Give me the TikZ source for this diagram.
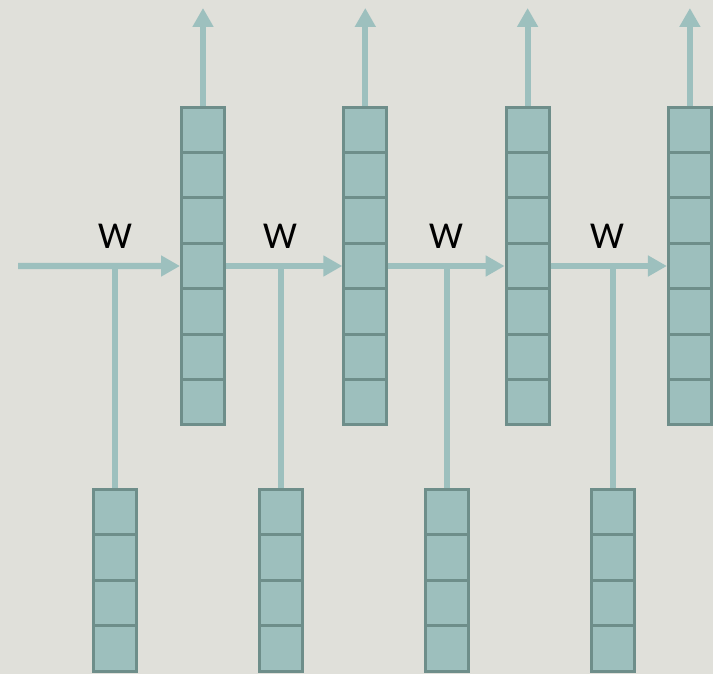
\documentclass[tikz,border=0pt]{standalone}
\usepackage{fontspec}
\setsansfont{Carlito}
\usetikzlibrary{arrows.meta,positioning}

\definecolor{paper}{RGB}{224,224,218}
\definecolor{cellfill}{RGB}{157,191,189}
\definecolor{celledge}{RGB}{110,142,138}
\definecolor{flowcol}{RGB}{157,192,190}

\tikzset{
  cell/.style={draw=celledge,fill=cellfill,line width=3pt,
    minimum width=43pt,minimum height=45.4pt,inner sep=0pt},
  flow/.style={draw=flowcol,line width=6pt,-{Triangle[length=19pt,width=20pt]}},
  link/.style={draw=flowcol,line width=6pt},
  wlabel/.style={font=\sffamily\fontsize{38}{44}\selectfont,text=black}
}

\begin{document}
\begin{tikzpicture}[x=1pt,y=-1pt,node distance=45.4pt]
  \fill[paper] (0,0) rectangle (713,674);
  \useasboundingbox (0,0) rectangle (713,674);
  \clip (0,0) rectangle (713,674);

  \foreach \i/\hx/\xx/\wx in {1/203/115/115,2/365.3/281/280,3/527.6/447/446,4/689.9/613/607} {
    % hidden column, seven cells
    \node [cell] (h\i-1) at (\hx,129.8) {};
    \foreach \k [count=\j from 2] in {1,...,6}
      \node [cell,below of=h\i-\k] (h\i-\j) {};
    % input column, four cells
    \node [cell] (x\i-1) at (\xx,512.2) {};
    \foreach \k [count=\j from 2] in {1,2,3}
      \node [cell,below of=x\i-\k] (x\i-\j) {};
    \coordinate (o\i) at (\hx,8);
    \coordinate (j\i) at (\xx,266);
    \node [wlabel] (w\i) at (\wx,236) {W};
    \draw [flow] (h\i-1.north) -- (o\i);
    \draw [link] (x\i-1.north) -- (j\i);
  }

  \coordinate (s0) at (18,266);
  \draw [flow] (s0) -- (h1-4.west);
  \foreach \i [count=\p] in {2,3,4}
    \draw [flow] (h\p-4.east) -- (h\i-4.west);
\end{tikzpicture}
\end{document}
